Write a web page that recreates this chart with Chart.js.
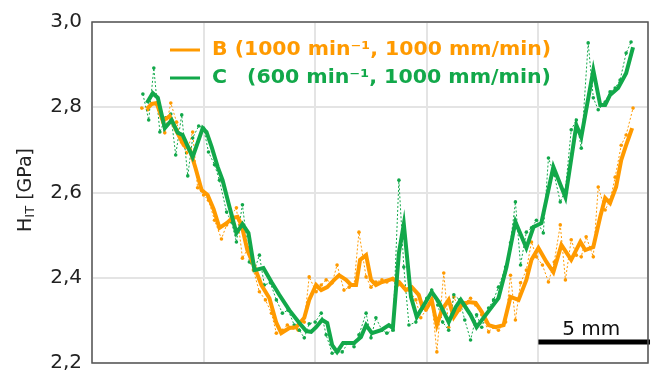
<!DOCTYPE html>
<html>
<head>
<meta charset="utf-8">
<script src="https://cdn.jsdelivr.net/npm/chart.js@4"></script>
<style>
  html, body { margin: 0; padding: 0; background: #fff; }
  #hitChart { display: block; }
</style>
</head>
<body>
<canvas id="hitChart" width="652" height="374"></canvas>
<script>
// position along the track in mm, hardness H_IT in GPa
const bLineX = [2.46, 2.68, 2.90, 3.17, 3.48, 3.79, 4.11, 4.38, 4.64, 4.91, 5.18, 5.45, 5.71, 6.03, 6.29, 6.52, 6.70, 6.96, 7.28, 7.59, 7.95, 8.26, 8.48, 8.84, 9.15, 9.51, 9.73, 10.04, 10.27, 10.54, 10.85, 11.07, 11.38, 11.61, 11.83, 12.01, 12.28, 12.50, 12.72, 12.99, 13.44, 13.75, 14.06, 14.33, 14.64, 14.82, 15.00, 15.22, 15.45, 15.67, 15.98, 16.21, 16.56, 16.88, 17.19, 17.46, 17.77, 18.08, 18.44, 18.75, 19.11, 19.46, 19.69, 20.00, 20.36, 20.67, 21.03, 21.47, 21.88, 22.10, 22.46, 22.77, 22.99, 23.21, 23.48, 23.71, 23.93, 24.20];
const bLineY = [2.796, 2.808, 2.810, 2.768, 2.779, 2.744, 2.711, 2.702, 2.657, 2.606, 2.594, 2.561, 2.517, 2.528, 2.540, 2.543, 2.524, 2.465, 2.425, 2.383, 2.352, 2.294, 2.270, 2.282, 2.284, 2.306, 2.348, 2.383, 2.371, 2.378, 2.395, 2.406, 2.395, 2.383, 2.383, 2.442, 2.453, 2.395, 2.383, 2.390, 2.397, 2.390, 2.371, 2.378, 2.360, 2.329, 2.329, 2.348, 2.289, 2.324, 2.348, 2.308, 2.336, 2.343, 2.341, 2.320, 2.289, 2.284, 2.289, 2.355, 2.348, 2.395, 2.442, 2.470, 2.437, 2.413, 2.477, 2.442, 2.484, 2.465, 2.472, 2.543, 2.587, 2.575, 2.613, 2.676, 2.711, 2.751];

const cLineX = [2.46, 2.72, 2.95, 3.26, 3.57, 3.84, 4.06, 4.51, 4.96, 5.13, 5.36, 5.63, 5.85, 6.16, 6.47, 6.74, 7.01, 7.28, 7.68, 8.04, 8.39, 8.84, 9.29, 9.60, 9.82, 10.04, 10.31, 10.54, 10.76, 10.98, 11.25, 11.74, 12.05, 12.28, 12.54, 12.95, 13.30, 13.48, 13.75, 13.97, 14.29, 14.55, 15.22, 15.54, 15.98, 16.29, 16.52, 16.96, 17.23, 17.54, 18.21, 18.57, 18.97, 19.46, 19.78, 20.13, 20.67, 21.21, 21.70, 21.92, 22.46, 22.77, 22.99, 23.21, 23.57, 23.93, 24.24];
const cLineY = [2.810, 2.833, 2.822, 2.751, 2.770, 2.740, 2.735, 2.683, 2.751, 2.742, 2.707, 2.660, 2.629, 2.566, 2.505, 2.526, 2.505, 2.418, 2.423, 2.390, 2.360, 2.324, 2.294, 2.275, 2.273, 2.284, 2.301, 2.294, 2.242, 2.226, 2.247, 2.247, 2.261, 2.289, 2.270, 2.277, 2.289, 2.282, 2.458, 2.526, 2.355, 2.308, 2.367, 2.343, 2.296, 2.331, 2.348, 2.313, 2.284, 2.306, 2.352, 2.425, 2.531, 2.470, 2.519, 2.528, 2.660, 2.589, 2.758, 2.730, 2.887, 2.805, 2.805, 2.829, 2.845, 2.880, 2.941];

const bRawX = [2.23, 2.50, 2.72, 2.95, 3.26, 3.53, 3.79, 4.02, 4.24, 4.51, 4.73, 5.00, 5.22, 5.49, 5.80, 6.03, 6.25, 6.47, 6.74, 7.01, 7.23, 7.50, 7.77, 8.04, 8.26, 8.53, 8.75, 9.02, 9.24, 9.51, 9.73, 10.04, 10.27, 10.49, 10.76, 10.98, 11.29, 11.52, 11.74, 11.96, 12.28, 12.50, 12.72, 12.99, 13.21, 13.48, 13.71, 13.97, 14.20, 14.51, 14.73, 14.96, 15.22, 15.45, 15.76, 15.98, 16.21, 16.47, 16.70, 16.96, 17.19, 17.46, 17.77, 17.99, 18.21, 18.53, 18.75, 18.97, 19.20, 19.46, 19.69, 19.91, 20.18, 20.45, 20.71, 20.98, 21.21, 21.47, 21.70, 21.92, 22.14, 22.46, 22.68, 22.99, 23.21, 23.44, 23.71, 23.93, 24.24];
const bRawY = [2.798, 2.794, 2.808, 2.803, 2.740, 2.810, 2.765, 2.718, 2.693, 2.742, 2.611, 2.594, 2.582, 2.535, 2.491, 2.524, 2.547, 2.564, 2.446, 2.470, 2.418, 2.367, 2.348, 2.317, 2.270, 2.277, 2.289, 2.282, 2.277, 2.296, 2.402, 2.367, 2.383, 2.395, 2.388, 2.430, 2.371, 2.378, 2.383, 2.507, 2.402, 2.378, 2.390, 2.395, 2.390, 2.399, 2.383, 2.378, 2.371, 2.348, 2.306, 2.324, 2.348, 2.226, 2.411, 2.284, 2.355, 2.324, 2.341, 2.352, 2.336, 2.313, 2.273, 2.284, 2.277, 2.296, 2.406, 2.301, 2.388, 2.418, 2.484, 2.449, 2.430, 2.390, 2.437, 2.524, 2.395, 2.489, 2.453, 2.449, 2.496, 2.449, 2.613, 2.559, 2.582, 2.636, 2.711, 2.735, 2.798];

const cRawX = [2.28, 2.54, 2.77, 3.04, 3.30, 3.53, 3.75, 4.02, 4.29, 4.51, 4.78, 5.00, 5.22, 5.49, 5.71, 6.03, 6.25, 6.47, 6.74, 7.05, 7.28, 7.50, 7.72, 7.99, 8.26, 8.53, 8.79, 9.06, 9.29, 9.51, 9.73, 10.00, 10.27, 10.49, 10.76, 10.98, 11.21, 11.47, 11.74, 11.96, 12.28, 12.50, 12.72, 12.99, 13.21, 13.48, 13.75, 13.97, 14.20, 14.51, 14.73, 15.00, 15.22, 15.49, 15.71, 15.98, 16.21, 16.47, 16.70, 16.96, 17.23, 17.46, 17.77, 17.99, 18.21, 18.53, 18.75, 18.97, 19.20, 19.46, 19.69, 19.91, 20.22, 20.45, 20.71, 20.98, 21.21, 21.47, 21.70, 21.92, 22.23, 22.46, 22.68, 22.99, 23.21, 23.44, 23.66, 23.93, 24.15];
const cRawY = [2.831, 2.770, 2.892, 2.742, 2.775, 2.784, 2.688, 2.782, 2.639, 2.728, 2.756, 2.751, 2.695, 2.665, 2.629, 2.554, 2.531, 2.484, 2.571, 2.437, 2.418, 2.453, 2.383, 2.388, 2.348, 2.317, 2.324, 2.289, 2.277, 2.259, 2.292, 2.296, 2.317, 2.266, 2.223, 2.226, 2.226, 2.247, 2.238, 2.266, 2.317, 2.259, 2.306, 2.277, 2.270, 2.277, 2.629, 2.425, 2.289, 2.296, 2.324, 2.352, 2.371, 2.336, 2.296, 2.277, 2.360, 2.348, 2.301, 2.254, 2.313, 2.284, 2.329, 2.348, 2.378, 2.425, 2.482, 2.578, 2.430, 2.507, 2.517, 2.535, 2.505, 2.681, 2.641, 2.578, 2.606, 2.747, 2.770, 2.704, 2.951, 2.822, 2.794, 2.812, 2.836, 2.845, 2.864, 2.927, 2.953];

const legendLabels = ["B (1000 min⁻¹, 1000 mm/min)", "C   (600 min⁻¹, 1000 mm/min)"];
const scaleBarX = [20, 25];
const scaleBarY = 2.249;
const scaleBarLabel = "5 mm";

const ORANGE = "#ff9a00";
const GREEN = "#12a84a";
const FONT = "DejaVu Sans";

function pts(xs, ys) {
  return xs.map((x, i) => ({ x: x, y: ys[i] }));
}

// draw text squeezed to a given width (reference font is narrower than DejaVu)
function fitText(ctx, text, x, y, width) {
  const w = ctx.measureText(text).width;
  ctx.save();
  ctx.translate(x, y);
  ctx.scale(width / w, 1);
  ctx.fillText(text, 0, 0);
  ctx.restore();
}

// box, legend, axis title with subscript, scale bar label
const extras = {
  id: "extras",
  afterDraw(chart) {
    const ctx = chart.ctx;
    const a = chart.chartArea;
    ctx.save();
    ctx.strokeStyle = "#555";
    ctx.lineWidth = 1.5;
    ctx.strokeRect(a.left, a.top, a.right - a.left, a.bottom - a.top);

    // legend
    ctx.font = "bold 19px " + FONT;
    ctx.textBaseline = "middle";
    ctx.textAlign = "left";
    const textLeft = 212, textRight = 551;
    [ORANGE, GREEN].forEach((col, i) => {
      const y = 50 + i * 28;
      ctx.strokeStyle = col;
      ctx.lineWidth = 3;
      ctx.beginPath();
      ctx.moveTo(170, y);
      ctx.lineTo(200, y);
      ctx.stroke();
      ctx.fillStyle = col;
      const label = legendLabels[i];
      if (i === 0) {
        fitText(ctx, label, textLeft, y, textRight - textLeft);
      } else {
        const cut = label.indexOf("(");
        const head = label.slice(0, cut).trim();
        const tail = label.slice(cut);
        fitText(ctx, head, textLeft, y, 15);
        fitText(ctx, tail, 247, y, textRight - 247);
      }
    });

    // y title H_IT [GPa]
    ctx.translate(26, 190);
    ctx.rotate(-Math.PI / 2);
    ctx.fillStyle = "#222";
    ctx.textBaseline = "middle";
    ctx.textAlign = "left";
    const big = "19px " + FONT, small = "13px " + FONT;
    ctx.font = big;
    const wH = ctx.measureText("H").width;
    const wRest = ctx.measureText(" [GPa]").width;
    ctx.font = small;
    const wSub = ctx.measureText("IT").width;
    let x0 = -(wH + wSub + wRest) / 2;
    ctx.font = big;
    ctx.fillText("H", x0, 0);
    ctx.font = small;
    ctx.fillText("IT", x0 + wH, 5);
    ctx.font = big;
    ctx.fillText(" [GPa]", x0 + wH + wSub, 0);
    ctx.restore();

    // scale bar label
    ctx.save();
    const xs = chart.scales.x, ys = chart.scales.y;
    ctx.font = "20px " + FONT;
    ctx.fillStyle = "#111";
    ctx.textAlign = "center";
    ctx.textBaseline = "alphabetic";
    ctx.fillText(scaleBarLabel, xs.getPixelForValue((scaleBarX[0] + scaleBarX[1]) / 2) - 3, ys.getPixelForValue(scaleBarY) - 7);
    ctx.restore();
  }
};

new Chart(document.getElementById("hitChart").getContext("2d"), {
  type: "line",
  data: {
    datasets: [
      {
        label: "C",
        data: pts(cLineX, cLineY),
        borderColor: GREEN,
        borderWidth: 4,
        pointRadius: 0,
        tension: 0,
        order: 0,
      },
      {
        label: "B",
        data: pts(bLineX, bLineY),
        borderColor: ORANGE,
        borderWidth: 4,
        pointRadius: 0,
        tension: 0,
        order: 1,
      },
      {
        label: "C raw",
        data: pts(cRawX, cRawY),
        borderColor: GREEN,
        backgroundColor: GREEN,
        borderWidth: 1,
        borderDash: [2, 2],
        pointRadius: 1.8,
        pointBorderWidth: 0,
        tension: 0,
        order: 2,
      },
      {
        label: "B raw",
        data: pts(bRawX, bRawY),
        borderColor: ORANGE,
        backgroundColor: ORANGE,
        borderWidth: 1,
        borderDash: [2, 2],
        pointRadius: 1.8,
        pointBorderWidth: 0,
        tension: 0,
        order: 3,
      },
      {
        label: "scale bar",
        data: scaleBarX.map((x) => ({ x: x, y: scaleBarY })),
        borderColor: "#000",
        borderWidth: 5,
        pointRadius: 0,
        clip: false,
        order: -1,
      },
    ],
  },
  options: {
    responsive: false,
    animation: false,
    layout: { padding: { left: 0, top: 22, right: 2, bottom: 11 } },
    plugins: {
      legend: { display: false },
      tooltip: { enabled: false },
    },
    scales: {
      x: {
        type: "linear",
        min: 0,
        max: 24.91,
        afterFit(scale) { scale.height = 0; },
        ticks: { display: false, stepSize: 5 },
        grid: { color: "#e4e4e4", lineWidth: 2, drawTicks: false },
        border: { display: false },
      },
      y: {
        min: 2.2,
        max: 3.0,
        afterFit(scale) {
          scale.width = 92;
          scale.paddingTop = 0;
          scale.paddingBottom = 0;
        },
        ticks: {
          stepSize: 0.2,
          padding: 10,
          color: "#222",
          font: { family: FONT, size: 20 },
          callback: (v) => v.toFixed(1).replace(".", ","),
        },
        grid: { color: "#e4e4e4", lineWidth: 2, drawTicks: false },
        border: { display: false },
      },
    },
  },
  plugins: [extras],
});
</script>
</body>
</html>
